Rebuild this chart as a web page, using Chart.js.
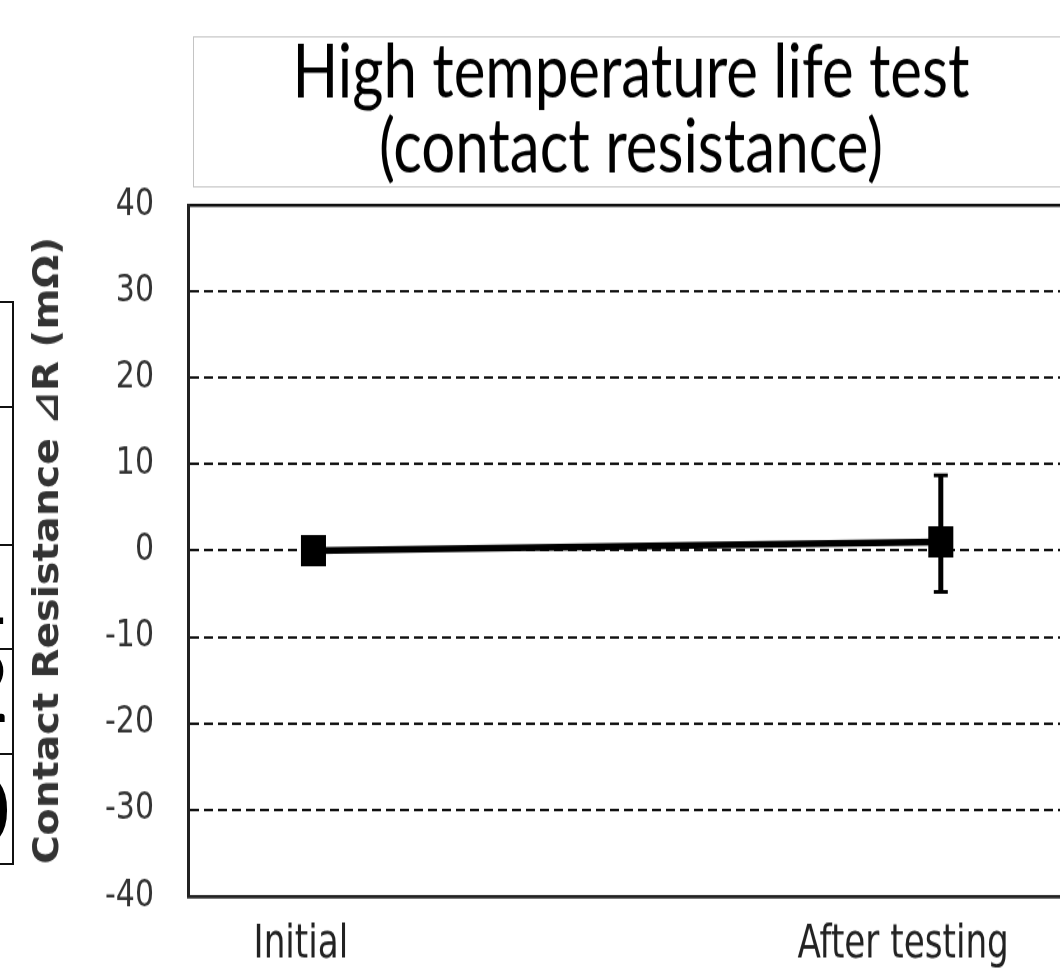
<!DOCTYPE html>
<html>
<head>
<meta charset="utf-8">
<title>High temperature life test (contact resistance)</title>
<script src="https://cdn.jsdelivr.net/npm/chart.js@4.4.1/dist/chart.umd.min.js"></script>
<style>
  html, body { margin: 0; padding: 0; background: #fff; }
  .wrap { position: relative; width: 1060px; height: 970px; overflow: hidden; }
  #chart { position: absolute; left: 0; top: 0; }

  /* edge of the neighbouring table, cut off by the crop */
  .table-edge { position: absolute; left: -200px; top: 301px; width: 212px;
    border-right: 2px solid #111; font-family: Lato, "Open Sans", sans-serif; font-size: 96px; }
  .table-edge div { position: relative; box-sizing: border-box; border-top: 2px solid #111; overflow: hidden; }
  .table-edge div:last-child { border-bottom: 2px solid #111; }
  .table-edge span { position: absolute; right: 2px; line-height: 96px; color: #000; }
</style>
</head>
<body>
<div class="wrap">
  <div class="table-edge">
    <div style="height:105px"></div>
    <div style="height:138px"></div>
    <div style="height:104px"><span style="top:-7px">1</span></div>
    <div style="height:105px"><span style="top:-13px">2</span></div>
    <div style="height:112px"><span style="top:5px">0</span></div>
  </div>
  <!-- the source figure is stretched vertically, so the canvas is drawn shorter and scaled up -->
  <canvas id="chart" width="1060" height="776" style="width:1060px;height:970px"></canvas>
</div>

<script>
const titleLines = ['High temperature life test', '(contact resistance)'];
const yTitle = 'Contact Resistance \u22BFR (m\u03A9)';

const categories = ['Initial', 'After testing'];
const xPos = [0, 1];
const deltaR = [0, 1];
const errHigh = [null, 8.7];
const errLow = [null, -4.8];

const yMin = -40;
const yMax = 40;
const yStep = 10;

// where the category names sit under the axis (they are not centred on the points)
const xLabelAt = [-0.02, 0.94];

const titleBox = {
  id: 'titleBox',
  beforeDraw(chart) {
    const ctx = chart.ctx;
    ctx.save();
    ctx.strokeStyle = '#c4c4c4';
    ctx.lineWidth = 1;
    ctx.strokeRect(193.5, 29.5, 900, 120);
    ctx.fillStyle = '#000';
    ctx.font = '60px Lato, "Open Sans", sans-serif';
    ctx.textAlign = 'center';
    ctx.textBaseline = 'alphabetic';
    titleLines.forEach((t, i) => ctx.fillText(t, 631, 78 + i * 60));
    ctx.restore();
  }
};

const errorBars = {
  id: 'errorBars',
  afterDatasetsDraw(chart) {
    const { ctx, scales: { x, y } } = chart;
    ctx.save();
    ctx.strokeStyle = '#000';
    xPos.forEach((xv, i) => {
      if (errHigh[i] == null) return;
      const px = x.getPixelForValue(xv);
      const top = y.getPixelForValue(errHigh[i]);
      const bot = y.getPixelForValue(errLow[i]);
      ctx.lineWidth = 5;
      ctx.beginPath();
      ctx.moveTo(px, top);
      ctx.lineTo(px, bot);
      ctx.stroke();
      ctx.lineWidth = 3;
      ctx.beginPath();
      ctx.moveTo(px - 7, top); ctx.lineTo(px + 7, top);
      ctx.moveTo(px - 7, bot); ctx.lineTo(px + 7, bot);
      ctx.stroke();
    });
    ctx.restore();
  }
};

const isEdge = c => c.tick && (c.tick.value === yMin || c.tick.value === yMax);

new Chart(document.getElementById('chart'), {
  type: 'line',
  data: {
    datasets: [{
      data: xPos.map((x, i) => ({ x, y: deltaR[i] })),
      borderColor: '#000',
      borderWidth: 5.5,
      tension: 0,
      pointStyle: 'rect',
      pointRadius: 17.7,
      pointHoverRadius: 17.7,
      pointBackgroundColor: '#000',
      pointBorderWidth: 0
    }]
  },
  options: {
    responsive: false,
    devicePixelRatio: 1,
    animation: false,
    layout: { autoPadding: false, padding: { top: 164, right: 0, bottom: 0, left: 0 } },
    plugins: { legend: { display: false }, tooltip: { enabled: false } },
    scales: {
      x: {
        type: 'linear',
        min: -0.2,
        max: 1.19,
        afterFit: s => { s.height = 59.2; },
        afterBuildTicks: s => { s.ticks = xLabelAt.map(v => ({ value: v })); },
        ticks: {
          callback: (v, i) => categories[i],
          color: '#222',
          padding: 17,
          maxRotation: 0,
          autoSkip: false,
          font: { family: '"DejaVu Sans Condensed", "DejaVu Sans", sans-serif', size: 38 }
        },
        grid: { display: false, drawTicks: false },
        border: { color: '#222', width: 2.5 }
      },
      y: {
        min: yMin,
        max: yMax,
        afterFit: s => { s.width = 188; },
        ticks: {
          stepSize: yStep,
          padding: 34,
          color: '#333',
          font: { family: '"DejaVu Sans", sans-serif', size: 30 }
        },
        grid: {
          drawTicks: false,
          color: '#111',
          lineWidth: c => isEdge(c) ? 2.5 : 2
        },
        border: {
          color: '#222',
          width: 3,
          dash: c => (c.type === 'tick' && !isEdge(c)) ? [9, 5] : []
        },
        title: {
          display: true,
          text: yTitle,
          color: '#333',
          font: { family: '"DejaVu Sans Condensed", "DejaVu Sans", sans-serif', size: 35, weight: 'bold' },
          padding: { top: 28, bottom: 0 }
        }
      }
    }
  },
  plugins: [titleBox, errorBars]
});
</script>
</body>
</html>
